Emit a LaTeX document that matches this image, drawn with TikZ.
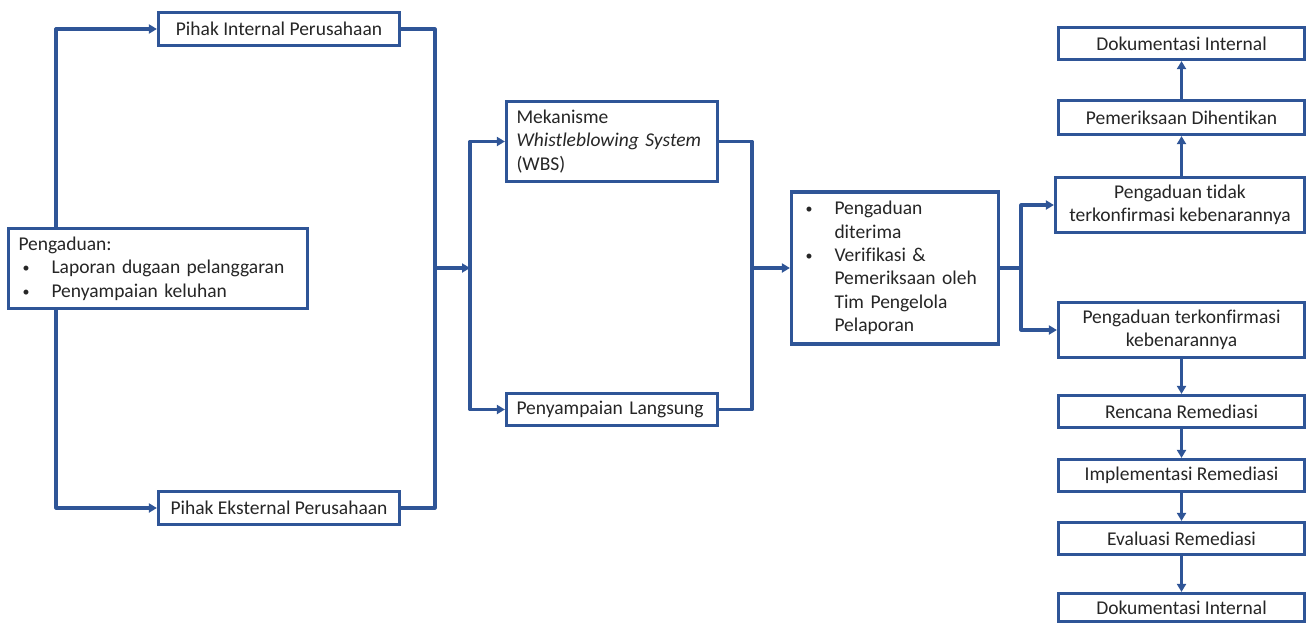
\documentclass[tikz,border=0pt]{standalone}
\usepackage{fontspec}
\setmainfont{Carlito}[Ligatures=NoCommon]
\usepackage{tikz}
\usetikzlibrary{arrows.meta,positioning,calc}
\definecolor{wbsblue}{HTML}{2F5597}
\newcommand{\poin}{\hspace*{4pt}\makebox[29pt][l]{\raisebox{1pt}{\fontsize{14}{14}\selectfont\textbullet}}}
\newcommand{\lanjut}{\hspace*{33pt}}

\begin{document}
\begin{tikzpicture}[x=1pt,y=-1pt,>={Triangle[length=8pt,width=9pt]},
  box node/.style={rectangle,draw=wbsblue,line width=3.2pt,fill=white,text=black!85,
    inner xsep=10pt,inner ysep=0pt,font=\fontsize{19.5}{23.4}\selectfont,align=center},
  list node/.style={box node,align=left},
  link/.style={draw=wbsblue,line width=3.2pt,line join=round}]
    \useasboundingbox (0,0) rectangle (1306,624);
    % kiri
    \node[list node,minimum width=299pt,minimum height=80pt,text width=279pt] (aduan) at (158,268.5)
      {Pengaduan:\\\poin Laporan dugaan pelanggaran\\\poin Penyampaian keluhan};
    \node[box node,minimum width=241pt,minimum height=33pt] (internal) at (279,29) {Pihak Internal Perusahaan};
    \node[box node,minimum width=241pt,minimum height=33pt] (eksternal) at (279,508) {Pihak Eksternal Perusahaan};
    % tengah
    \node[list node,minimum width=211pt,minimum height=80pt,text width=191pt] (wbs) at (612,141.5)
      {Mekanisme\\\textit{Whistleblowing System}\\(WBS)};
    \node[list node,minimum width=211pt,minimum height=32pt,text width=191pt] (langsung) at (612,409.5) {Penyampaian Langsung};
    \node[list node,minimum width=207pt,minimum height=152pt,text width=187pt] (verif) at (895,268)
      {\poin Pengaduan\\\lanjut diterima\\\poin Verifikasi \&\\\lanjut Pemeriksaan oleh\\\lanjut Tim Pengelola\\\lanjut Pelaporan};
    % kanan
    \node[box node,minimum width=246pt,minimum height=32pt] (dokA) at (1181.5,43.5) {Dokumentasi Internal};
    \node[box node,minimum width=246pt,minimum height=34pt] (henti) at (1181.5,117.5) {Pemeriksaan Dihentikan};
    \node[box node,minimum width=249pt,minimum height=55pt] (tidak) at (1180,205) {Pengaduan tidak\\terkonfirmasi kebenarannya};
    \node[box node,minimum width=246pt,minimum height=55pt] (konfirm) at (1181.5,330) {Pengaduan terkonfirmasi\\kebenarannya};
    \node[box node,minimum width=246pt,minimum height=32pt] (rencana) at (1181.5,411.5) {Rencana Remediasi};
    \node[box node,minimum width=246pt,minimum height=32pt] (implementasi) at (1181.5,475.5) {Implementasi Remediasi};
    \node[box node,minimum width=246pt,minimum height=32pt] (evaluasi) at (1181.5,538.5) {Evaluasi Remediasi};
    \node[box node,minimum width=246pt,minimum height=28pt] (dokB) at (1181.5,607.5) {Dokumentasi Internal};

    \coordinate (b1) at (56,268);
    \coordinate (b2) at (435,268);
    \coordinate (b3) at (470,268);
    \coordinate (b4) at (752,268);
    \coordinate (b5) at (1021,268);

    \draw[link,->] (b1 |- aduan.north) |- (internal);
    \draw[link,->] (b1 |- aduan.south) |- (eksternal);
    \draw[link] (internal.east) -| (b2) |- (eksternal.east);
    \draw[link,->] (b2) -- (b3);
    \draw[link,->] (b3) |- (wbs);
    \draw[link,->] (b3) |- (langsung);
    \draw[link] (wbs.east) -| (b4) |- (langsung.east);
    \draw[link,->] (b4) -- (verif);
    \draw[link] (verif.east) -- (b5);
    \draw[link,->] (b5) |- (tidak);
    \draw[link,->] (b5) |- (konfirm);
    \draw[link,->] (henti |- tidak.north) -- (henti);
    \draw[link,->] (henti) -- (dokA);
    \draw[link,->] (konfirm) -- (rencana);
    \draw[link,->] (rencana) -- (implementasi);
    \draw[link,->] (implementasi) -- (evaluasi);
    \draw[link,->] (evaluasi) -- (dokB);
\end{tikzpicture}
\end{document}
